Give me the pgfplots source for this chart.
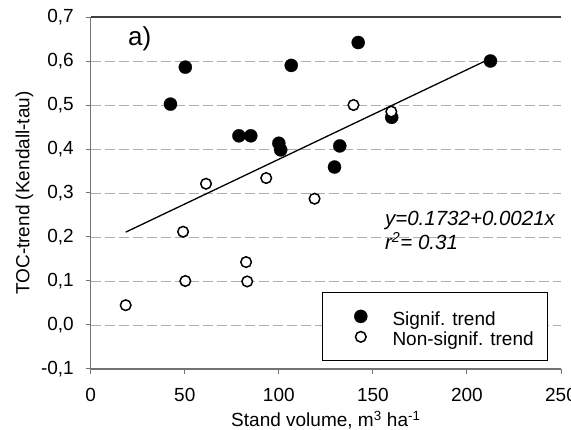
\documentclass[border=0pt]{standalone}
\usepackage{pgfplots}
\pgfplotsset{compat=1.18}
\usepackage{fontspec}
\setmainfont{Liberation Sans}
\definecolor{axgray}{rgb}{0.45,0.45,0.45}
\definecolor{gridgray}{rgb}{0.68,0.68,0.70}
\begin{document}
\begin{tikzpicture}
\path[use as bounding box] (-90.7pt,-61pt) rectangle (480.3pt,369pt);
\begin{axis}[
  at={(0pt,0pt)}, anchor=south west,
  scale only axis, width=470.3pt, height=352pt,
  xmin=0, xmax=250, ymin=-0.1, ymax=0.7,
  xtick={0,50,100,150,200,250},
  ytick={-0.1,0,0.1,0.2,0.3,0.4,0.5,0.6,0.7},
  axis x line*=bottom, axis y line*=left,
  axis line style={-, line width=1.2pt, axgray},
  tick align=outside, major tick length=5pt,
  tick style={line width=1pt, axgray},
  ymajorgrids=true,
  major grid style={dash pattern=on 10pt off 4pt, gridgray, line width=0.8pt},
  /pgf/number format/assume math mode=true,
  tick label style={font=\fontsize{19}{22}\selectfont, inner sep=0pt},
  xticklabel style={yshift=-14.3pt},
  yticklabel style={xshift=-11.7pt, /pgf/number format/.cd, fixed, fixed zerofill, precision=1, use comma},
  xlabel={Stand volume, m\textsuperscript{3} ha\textsuperscript{-1}},
  ylabel={TOC-trend (Kendall-tau)},
  x label style={font=\fontsize{19}{22}\selectfont, at={(axis description cs:0.5,0)}, anchor=base, yshift=-58pt, inner sep=0pt},
  y label style={font=\fontsize{19}{22}\selectfont, at={(axis description cs:-0.1408,0.5)}, anchor=center, inner sep=0pt},
  legend style={at={(axis cs:122.8,-0.082)}, anchor=south west, draw=black, line width=1pt, fill=white,
    inner xsep=32pt, inner ysep=13.5pt, row sep=0pt, column sep=25.1pt,
    font=\fontsize{19}{22.3}\selectfont, nodes={inner sep=0pt}},
  legend cell align=left,
  legend image code/.code={\draw[#1] plot coordinates {(0pt,0pt)};},
  clip=false,
]
\addplot[only marks, mark=*, mark size=6.6pt, mark options={fill=black, draw=black, line width=0.2pt}] coordinates {
(42.4,0.502) (50.3,0.586) (78.8,0.430) (85.1,0.430) (100.0,0.413) (101.0,0.398)
(106.6,0.590) (129.6,0.359) (132.4,0.407) (142.2,0.642) (160.0,0.472) (212.5,0.600)
};
\addlegendentry{\rule[-3.35pt]{0pt}{22.3pt}\makebox[123.3pt][l]{Signif. trend}}
\addplot[only marks, mark=*, mark size=5.3pt, mark options={fill=white, draw=black, line width=1.5pt}] coordinates {
(18.6,0.045) (49.1,0.212) (50.3,0.100) (61.3,0.321) (82.6,0.143) (83.2,0.099)
(93.3,0.334) (119.0,0.287) (139.7,0.500) (159.8,0.485)
};
\addlegendentry{\rule[-3.35pt]{0pt}{22.3pt}\makebox[123.3pt][l]{Non-signif. trend}}
\addplot[black, line width=1.3pt, forget plot] coordinates {(18.6,0.211) (210.7,0.602)};
\draw[line width=1.2pt, black!75] (axis cs:0,0.7) -- (axis cs:250,0.7);
\node[anchor=base west, inner sep=0pt, font=\fontsize{26}{30}\selectfont] at (axis cs:19.8,0.636) {a)};
\node[anchor=base west, inner sep=0pt, font=\fontsize{20.5}{24}\selectfont\itshape] at (axis cs:156.4,0.225) {y=0.1732+0.0021x};
\node[anchor=base west, inner sep=0pt, font=\fontsize{20.5}{24}\selectfont\itshape] at (axis cs:156.4,0.171) {r\textsuperscript{2}= 0.31};
\end{axis}
\end{tikzpicture}
\end{document}
